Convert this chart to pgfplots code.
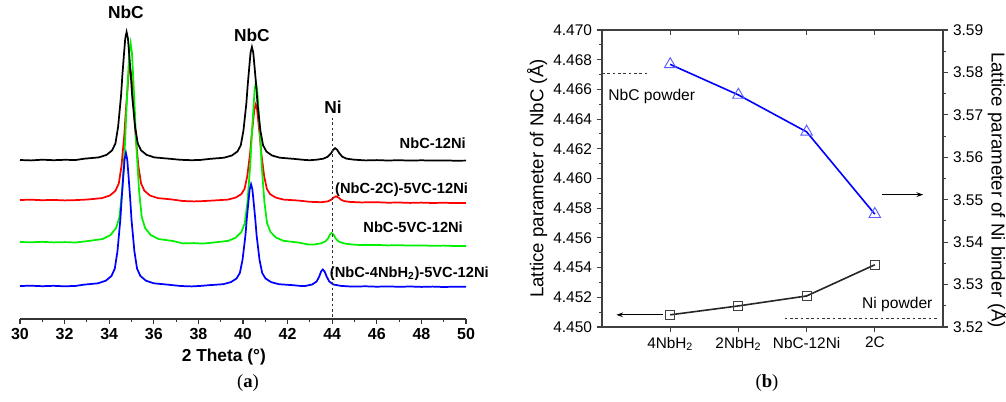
\documentclass[border=0pt]{standalone}
\usepackage{fontspec}
\setmainfont{Liberation Sans}
\newfontfamily\seriffont{Liberation Serif}
\usepackage{pgfplots}
\pgfplotsset{compat=1.18}
\usetikzlibrary{arrows.meta}
\definecolor{xgreen}{RGB}{0,240,0}
\definecolor{triblue}{RGB}{90,90,255}

\begin{document}
\begin{tikzpicture}
\useasboundingbox (0,0) rectangle (754.5pt,300.75pt);

% ---------- (a) XRD patterns ----------
\begin{axis}[
  at={(15pt,61.5pt)}, anchor=south west,
  scale only axis, width=334.5pt, height=226.5pt,
  xmin=30, xmax=50, ymin=-2, ymax=300,
  axis x line*=bottom, axis y line=none, ytick=\empty,
  xtick={30,32,...,50}, minor x tick num=1,
  tick align=outside,
  major tick length=3.5pt, minor tick length=2pt,
  axis line style={black!80, line width=0.8pt},
  tick style={black!80, line width=0.8pt},
  /pgf/number format/assume math mode=true,
  ticklabel style={font=\fontsize{12}{14}\selectfont\bfseries},
  xlabel={2 Theta (°)},
  xlabel style={font=\fontsize{13}{15}\selectfont\bfseries,
    at={(axis description cs:0.457,-0.126)}, anchor=center},
  clip=false,
  every axis plot/.append style={line width=1.3pt},
]
% (NbC-2C)-5VC-12Ni
\addplot[red] coordinates {
(30,117)(30.5,117.3)(31,116.8)(31.5,117.1)(32,116.6)(32.5,116.9)
(33.03,117.5)(33.68,118.9)(34.03,121.5)(34.28,126.2)(34.43,133.5)(34.55,150.8)(34.68,182.7)(34.74,204)(34.81,225.2)(34.87,242.6)(34.93,249.2)
(34.99,242.6)(35.05,225.2)(35.12,204)(35.18,182.7)(35.31,150.8)(35.43,133.5)(35.58,126.2)(35.83,121.5)(36.18,118.9)(36.83,117.5)
(37.3,116)(37.8,115.6)(38.2,115.9)
(38.67,116.5)(39.32,117.4)(39.67,119.4)(39.92,122.8)(40.07,128.1)(40.19,140.7)(40.32,164)(40.38,179.5)(40.45,195)(40.51,207.7)(40.57,212.5)
(40.63,207.7)(40.69,195)(40.76,179.5)(40.82,164)(40.95,140.7)(41.07,128.1)(41.22,122.8)(41.47,119.4)(41.82,117.4)(42.47,116.5)
(43,115.2)(43.5,114.8)
(43.8,115.6)(43.95,117.2)(44.05,119.2)(44.17,120.7)(44.3,119.2)(44.4,117.2)(44.55,115.8)(44.8,115.1)
(45.3,114.6)(46,114.8)(46.5,114.3)(47,114.5)(47.5,114.1)(48,114.4)(48.5,114)(49,114.3)(49.5,113.9)(50,114.1)
};
% NbC-5VC-12Ni
\addplot[xgreen] coordinates {
(30,75)(30.5,74.7)(31,75.2)(31.5,74.6)(32,74.9)(32.5,74.5)
(33.06,76)(33.71,78)(34.06,82)(34.31,89)(34.46,100)(34.58,126)(34.71,174)(34.77,206)(34.84,238)(34.90,264)(34.96,274)
(35.02,264)(35.08,238)(35.15,206)(35.21,174)(35.34,126)(35.46,100)(35.61,89)(35.86,82)(36.21,78)(36.86,76)
(37.3,73.6)(37.8,73.9)(38.2,73.4)
(38.68,74.5)(39.33,76.1)(39.68,79.4)(39.93,85.1)(40.08,93.9)(40.20,114.9)(40.33,153.9)(40.39,179.9)(40.46,205.9)(40.52,226.9)(40.58,234.9)
(40.64,226.9)(40.70,205.9)(40.77,179.9)(40.83,153.9)(40.96,114.9)(41.08,93.9)(41.23,85.1)(41.48,79.4)(41.83,76.1)(42.48,74.5)
(42.9,72.6)(43.2,72.5)
(43.5,73.7)(43.7,75.7)(43.82,78.7)(43.9,82.5)(43.97,84)(44.06,82.5)(44.15,78.7)(44.28,75.7)(44.5,73.7)(44.85,72.6)
(45.3,71.9)(46,72.1)(46.5,71.6)(47,71.8)(47.5,71.4)(48,71.6)(48.5,71.2)(49,71.4)(49.5,71)(50,71.1)
};
% (NbC-4NbH2)-5VC-12Ni
\addplot[blue] coordinates {
(30,31)(30.5,31.3)(31,30.8)(31.5,31.2)(32,30.7)(32.5,31.1)
(32.85,32.3)(33.50,33.7)(33.85,36.3)(34.10,41)(34.25,48.3)(34.37,65.6)(34.50,97.5)(34.56,118.8)(34.63,140)(34.69,157.4)(34.75,164)
(34.81,157.4)(34.87,140)(34.94,118.8)(35.00,97.5)(35.13,65.6)(35.25,48.3)(35.40,41)(35.65,36.3)(36.00,33.7)(36.65,32.3)
(37.2,31)(37.7,30.6)(38.1,31.1)
(38.46,31.8)(39.11,32.8)(39.46,34.9)(39.71,38.5)(39.86,44.1)(39.98,57.3)(40.11,81.8)(40.17,98.1)(40.24,114.4)(40.30,127.7)(40.36,132.8)
(40.42,127.7)(40.48,114.4)(40.55,98.1)(40.61,81.8)(40.74,57.3)(40.86,44.1)(41.01,38.5)(41.26,34.9)(41.61,32.8)(42.26,31.8)
(42.6,31)
(42.8,31.1)(43.1,32.5)(43.3,35.5)(43.42,40.5)(43.5,45.5)(43.58,47.5)(43.66,45.5)(43.75,40.5)(43.87,35.5)(44.05,32.5)(44.4,31.1)
(44.9,30.4)(45.5,30.7)(46,30.3)(46.5,30.6)(47,30.2)(47.5,30.5)(48,30.1)(48.5,30.4)(49,30)(49.5,30.3)(50,30.2)
};
% NbC-12Ni
\addplot[black] coordinates {
(30,157)(30.5,156.6)(31,157.3)(31.5,156.8)(32,157.2)(32.5,157.0)
(32.88,158.3)(33.53,159.6)(33.88,162.1)(34.13,166.6)(34.28,173.6)(34.40,190.3)(34.53,221)(34.59,241.5)(34.66,262)(34.72,278.6)(34.78,285)
(34.84,278.6)(34.90,262)(34.97,241.5)(35.03,221)(35.16,190.3)(35.28,173.6)(35.43,166.6)(35.68,162.1)(36.03,159.6)(36.68,158.3)
(37.2,157.2)(37.7,156.8)(38.1,157.1)
(38.50,158.1)(39.15,159.3)(39.50,161.5)(39.75,165.5)(39.90,171.7)(40.02,186.4)(40.15,213.5)(40.21,231.6)(40.28,249.7)(40.34,264.4)(40.40,270)
(40.46,264.4)(40.52,249.7)(40.59,231.6)(40.65,213.5)(40.78,186.4)(40.90,171.7)(41.05,165.5)(41.30,161.5)(41.65,159.3)(42.30,158.1)
(42.8,157)(43.0,156.8)
(43.3,157.3)(43.6,158.3)(43.8,160.3)(43.95,163.8)(44.05,167.3)(44.13,168.8)(44.22,167.3)(44.32,163.8)(44.45,160.3)(44.65,158.3)(45.0,157.3)
(45.5,156.6)(46,156.9)(46.5,156.5)(47,156.8)(47.5,156.4)(48,156.7)(48.5,156.4)(49,156.6)(49.5,156.3)(50,156.4)
};
% Ni reference position
\addplot[black!80, line width=0.7pt, dash pattern=on 2pt off 2pt] coordinates {(44,0)(44,199)};

\node[font=\fontsize{13}{15}\selectfont\bfseries] at (axis cs:34.75,305) {NbC};
\node[font=\fontsize{13}{15}\selectfont\bfseries] at (axis cs:40.40,282) {NbC};
\node[font=\fontsize{13}{15}\selectfont\bfseries] at (axis cs:44.04,210) {Ni};
\begin{scope}[every node/.style={anchor=east, inner sep=0pt, font=\fontsize{11}{13}\selectfont\bfseries}]
\node at (axis cs:50,174) {NbC-12Ni};
\node at (axis cs:50.1,127) {(NbC-2C)-5VC-12Ni};
\node at (axis cs:49.87,90) {NbC-5VC-12Ni};
\node at (axis cs:51.03,43) {(NbC-4NbH\textsubscript{2})-5VC-12Ni};
\end{scope}
\end{axis}

% ---------- (b) lattice parameters, left axis ----------
\begin{axis}[
  at={(451.5pt,55.5pt)}, anchor=south west,
  scale only axis, width=255.75pt, height=222.75pt,
  xmin=0, xmax=5, ymin=4.450, ymax=4.470,
  xtick={1,2,3,4},
  xticklabels={4NbH\textsubscript{2},2NbH\textsubscript{2},NbC-12Ni,2C},
  ytick={4.450,4.452,4.454,4.456,4.458,4.460,4.462,4.464,4.466,4.468,4.470},
  minor y tick num=1,
  xtick pos=left, ytick pos=left,
  tick align=outside,
  major tick length=4pt, minor tick length=2.2pt,
  scaled y ticks=false,
  axis line style={black!75, line width=0.8pt},
  tick style={black!75, line width=0.8pt},
  /pgf/number format/assume math mode=true,
  yticklabel style={font=\fontsize{11.6}{13}\selectfont,
    /pgf/number format/.cd, fixed, fixed zerofill, precision=3},
  xticklabel style={font=\fontsize{11.5}{13}\selectfont},
  ylabel={Lattice parameter of NbC (Å)},
  ylabel style={font=\fontsize{14}{16}\selectfont,
    at={(axis description cs:-0.19,0.5)}, anchor=center, rotate=0},
  clip=false,
]
\addplot[black!85, line width=1.2pt, mark=square, mark size=3.4pt,
  mark options={solid, black!75, line width=0.7pt, fill=white}]
  coordinates {(1,4.45082)(2,4.45142)(3,4.45209)(4,4.45419)};
% NbC powder reference
\addplot[black!80, line width=0.7pt, dash pattern=on 2pt off 2pt]
  coordinates {(0,4.46705)(0.67,4.46705)};
\node[anchor=west, inner sep=0pt, font=\fontsize{11.7}{13}\selectfont] at (axis cs:0.09,4.4655) {NbC powder};
\draw[black, line width=0.8pt, -{Stealth[length=5pt,width=3.5pt]}] (axis cs:0.89,4.45082) -- (axis cs:0.21,4.45082);
\end{axis}

% ---------- (b) right axis ----------
\begin{axis}[
  at={(451.5pt,55.5pt)}, anchor=south west,
  scale only axis, width=255.75pt, height=222.75pt,
  xmin=0, xmax=5, ymin=3.52, ymax=3.59,
  xtick={1,2,3,4}, xticklabels={},
  ytick={3.52,3.53,3.54,3.55,3.56,3.57,3.58,3.59},
  minor y tick num=1,
  xtick pos=right, ytick pos=right,
  xtick align=inside, ytick align=outside,
  major tick length=4pt, minor tick length=2.2pt,
  scaled y ticks=false,
  axis line style={black!75, line width=0.8pt},
  tick style={black!75, line width=0.8pt},
  /pgf/number format/assume math mode=true,
  yticklabel style={font=\fontsize{11.6}{13}\selectfont,
    /pgf/number format/.cd, fixed, fixed zerofill, precision=2},
  ylabel={Lattice parameter of Ni binder (Å)},
  ylabel style={font=\fontsize{14}{16}\selectfont,
    at={(axis description cs:1.161,0.461)}, anchor=center, rotate=180},
  clip=false,
]
\addplot[blue, line width=1.2pt, mark=triangle, mark size=5pt,
  mark options={solid, triblue, line width=0.7pt, fill=white}]
  coordinates {(1,3.5819)(2,3.5747)(3,3.5660)(4,3.5466)};
% Ni powder reference
\addplot[black!80, line width=0.7pt, dash pattern=on 2pt off 2pt]
  coordinates {(2.68,3.5219)(4.94,3.5219)};
\node[font=\fontsize{11.7}{13}\selectfont] at (axis cs:4.33,3.5252) {Ni powder};
\draw[black, line width=0.8pt, -{Stealth[length=5pt,width=3.5pt]}] (axis cs:4.11,3.5512) -- (axis cs:4.71,3.5512);
\end{axis}

\node[font=\seriffont\fontsize{14}{16}\selectfont] at (186pt,13.5pt) {(\textbf{a})};
\node[font=\seriffont\fontsize{14}{16}\selectfont] at (575.25pt,13.5pt) {(\textbf{b})};
\end{tikzpicture}
\end{document}
